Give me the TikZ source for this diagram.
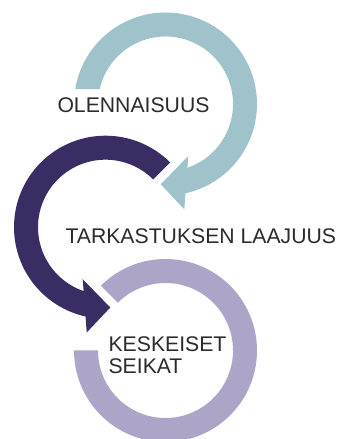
\documentclass[tikz,border=0pt]{standalone}
\usepackage{fontspec}
\setmainfont{Liberation Sans}
\definecolor{ringblue}{HTML}{A0C3CB}
\definecolor{ringdark}{HTML}{3A2D63}
\definecolor{ringlav}{HTML}{ACA5C7}
\definecolor{txtgray}{HTML}{2B2B2B}
\begin{document}
\begin{tikzpicture}[x=1pt,y=1pt,
  ringtext/.style={font=\fontsize{21.2}{21.6}\selectfont, text=txtgray, inner sep=0pt, anchor=base west, align=left}]
\useasboundingbox (0,0) rectangle (337,439);
\clip (0,0) rectangle (337,439);
% top ring (clockwise, arrow pointing left)
\fill[ringblue, shift={(165.5,335)}]
  (170.6:91.5) arc[start angle=170.6, end angle=-77.4, radius=91.5]
  -- (18.8,-105.3) -- (-4.8,-80.3) -- (22.8,-52)
  -- (-71.1:67.5) arc[start angle=-71.1, end angle=167.2, radius=67.5] -- cycle;
% middle ring (counter-clockwise, arrow pointing right)
\fill[ringdark, shift={(105.5,211.8)}]
  (45:91.5) arc[start angle=45, end angle=257.4, radius=91.5]
  -- (-18.8,-105.3) -- (4.8,-80.3) -- (-22.8,-52)
  -- (251.1:67.5) arc[start angle=251.1, end angle=45, radius=67.5] -- cycle;
% bottom ring
\fill[ringlav, shift={(165.5,88.5)}]
  (135:91.5) arc[start angle=135, end angle=-180, radius=91.5]
  -- (180:67.5) arc[start angle=-180, end angle=135, radius=67.5] -- cycle;
\node[ringtext] (olen) at (57.3,326.3) {OLENNAISUUS};
\node[ringtext] (tark) at (65.3,195.7) {TARKASTUKSEN LAAJUUS};
\node[ringtext] (kesk) at (108.4,65.7) {KESKEISET\\SEIKAT};
\end{tikzpicture}
\end{document}
